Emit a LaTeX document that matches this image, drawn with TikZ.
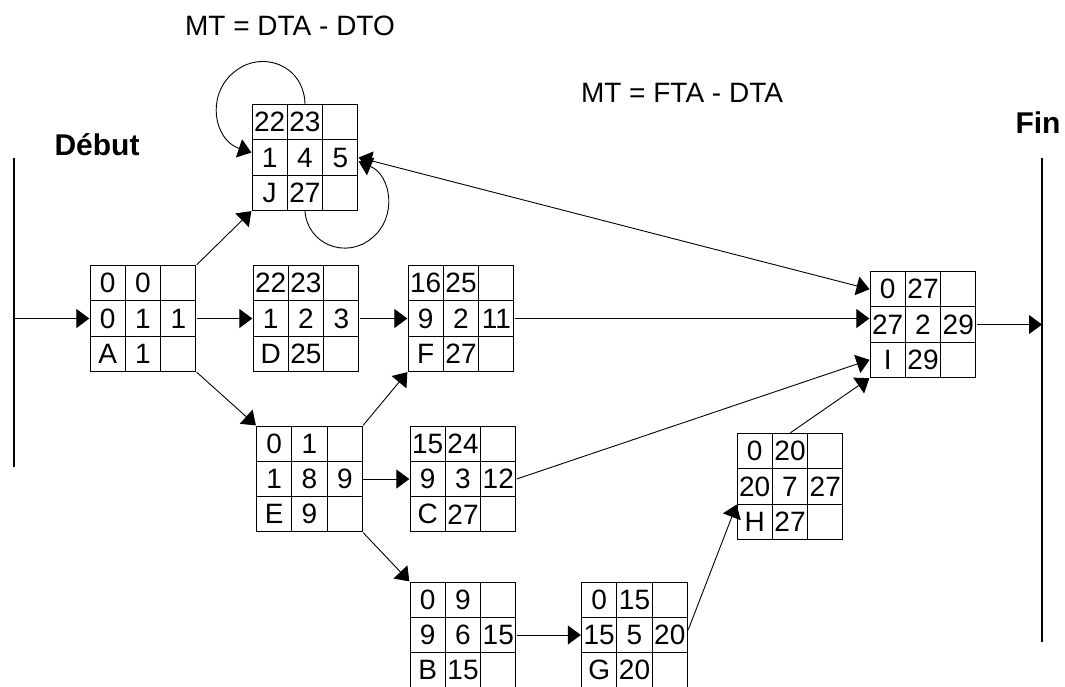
\documentclass[tikz,border=0pt]{standalone}
\usepackage{fontspec}
\setmainfont{Liberation Sans}
\usetikzlibrary{arrows.meta,matrix,calc}
\tikzset{
  tache/.style={matrix of nodes, nodes in empty cells, inner sep=0pt, column sep=-1pt, row sep=-1pt,
    nodes={draw, line width=1pt, minimum width=35.3pt, minimum height=35.3pt, inner sep=0pt, anchor=center}},
  fl/.style={-{Triangle[length=13pt,width=19pt]}, line width=0.9pt},
  fl2/.style={{Triangle[length=13pt,width=19pt]}-{Triangle[length=13pt,width=19pt]}, line width=0.9pt},
  barre/.style={line width=1.3pt},
  titre/.style={font=\fontsize{30}{34}\selectfont\bfseries, anchor=base, inner sep=0pt},
  formule/.style={anchor=base, inner sep=0pt},
}

\begin{document}
\begin{tikzpicture}[x=1pt, y=-1pt, font=\fontsize{28}{31}\selectfont]
  \useasboundingbox (0,0) rectangle (1065,686);
  % lignes debut / fin
  \coordinate (debH) at (14,158);
  \coordinate (debB) at (14,467);
  \coordinate (finH) at (1042,158);
  \coordinate (finB) at (1042,642);
  \draw[barre] (debH) -- (debB);
  \draw[barre] (finH) -- (finB);
  \node[titre] (debut) at (97,155) {Début};
  \node[titre] (fin) at (1038,133) {Fin};
  \node[formule] (mt1) at (290,35) {MT = DTA - DTO};
  \node[formule] (mt2) at (682,102) {MT = FTA - DTA};

  % taches
  \matrix[tache] (J) at (305,157.5) {22 & 23 & \\ 1 & 4 & 5 \\ J & 27 & \\};
  \matrix[tache] (A) at (143,318.5) {0 & 0 & \\ 0 & 1 & 1 \\ A & 1 & \\};
  \matrix[tache] (D) at (306,318.5) {22 & 23 & \\ 1 & 2 & 3 \\ D & 25 & \\};
  \matrix[tache] (F) at (461,318.5) {16 & 25 & \\ 9 & 2 & 11 \\ F & 27 & \\};
  \matrix[tache] (E) at (309.5,479) {0 & 1 & \\ 1 & 8 & 9 \\ E & 9 & \\};
  \matrix[tache] (C) at (463,479) {15 & 24 & \\ 9 & 3 & 12 \\ C & 27 & \\};
  \matrix[tache] (B) at (463,635) {0 & 9 & \\ 9 & 6 & 15 \\ B & 15 & \\};
  \matrix[tache] (G) at (634.5,635) {0 & 15 & \\ 15 & 5 & 20 \\ G & 20 & \\};
  \matrix[tache] (H) at (790,486.5) {0 & 20 & \\ 20 & 7 & 27 \\ H & 27 & \\};
  \matrix[tache] (I) at (923,324.5) {0 & 27 & \\ 27 & 2 & 29 \\ I & 29 & \\};

  % liens
  \draw[fl] (A.west -| debH) -- (A.west);
  \draw[fl] (A.east) -- (D.west);
  \draw[fl] (A.north east) -- (J.south west);
  \draw[fl] (A.south east) -- (E.north west);
  \draw[fl] (D.east) -- (F.west);
  \draw[fl] (E.north east) -- (F.south west);
  \draw[fl] (E.east) -- (C.west);
  \draw[fl] (E.south east) -- (B.north west);
  \draw[fl] (B.east) -- (G.west);
  \draw[fl] ([yshift=5pt]G.east) -- (H-2-1.south west);
  \draw[fl] (H-1-2.north) -- (I.south west);
  \draw[fl] (C.east) -- (I-3-1.west);
  \draw[fl] (F.east) -- (F.east -| I.west);
  \draw[fl] (I.east) -- (I.east -| finH);
  \draw[fl2] (J.east) -- (I-1-1.west);
  % boucles sur J
  \draw[fl] (J-1-2.north) .. controls (304,64) and (260,49) .. (233,73)
    .. controls (206,96) and (214,140) .. ([yshift=5pt]J.west);
  \draw[fl] (J-3-2.south) .. controls (307,244) and (346,260) .. (372,238)
    .. controls (398,217) and (391,175) .. ([yshift=-4pt]J.east);
\end{tikzpicture}
\end{document}
